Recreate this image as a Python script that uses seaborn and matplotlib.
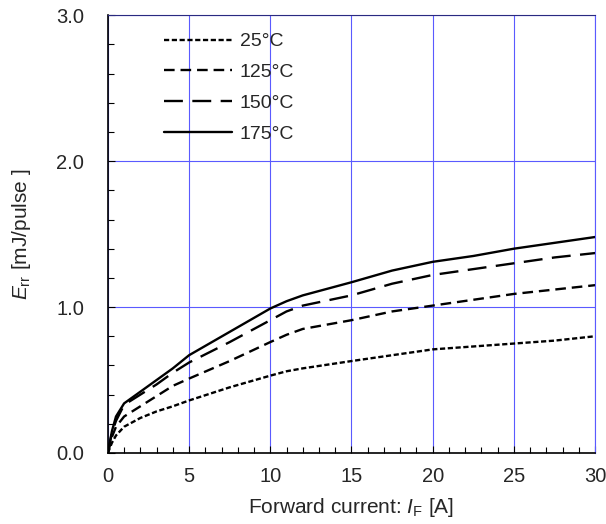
import numpy as np
import pandas as pd
import matplotlib
matplotlib.use("Agg")
import matplotlib.pyplot as plt
import seaborn as sns
from matplotlib.ticker import MultipleLocator, FormatStrFormatter

# Data
current = [0, 0.25, 0.5, 1, 2, 3, 4, 5, 7.5, 10, 11, 12, 15, 17.5, 20, 22.5, 25, 27.5, 30]
err_25 = [0, 0.07, 0.12, 0.18, 0.24, 0.285, 0.32, 0.36, 0.45, 0.53, 0.56, 0.58, 0.63, 0.67, 0.71, 0.73, 0.75, 0.77, 0.80]
err_125 = [0, 0.11, 0.18, 0.25, 0.32, 0.39, 0.46, 0.51, 0.63, 0.76, 0.81, 0.85, 0.91, 0.97, 1.01, 1.05, 1.09, 1.12, 1.15]
err_150 = [0, 0.14, 0.22, 0.33, 0.40, 0.47, 0.55, 0.62, 0.76, 0.91, 0.97, 1.01, 1.08, 1.16, 1.22, 1.26, 1.30, 1.34, 1.37]
err_175 = [0, 0.15, 0.25, 0.34, 0.42, 0.50, 0.58, 0.67, 0.83, 0.99, 1.04, 1.08, 1.17, 1.25, 1.31, 1.35, 1.40, 1.44, 1.48]
labels = ["25°C", "125°C", "150°C", "175°C"]

series = [err_25, err_125, err_150, err_175]
df = pd.concat([pd.DataFrame({"IF": current, "Err": s, "T": lab}) for s, lab in zip(series, labels)],
               ignore_index=True)

sns.set_style("white")
plt.rcParams['font.family'] = ['Liberation Sans', 'DejaVu Sans']
plt.rcParams['mathtext.fontset'] = 'custom'
plt.rcParams['mathtext.rm'] = 'Liberation Sans'
plt.rcParams['mathtext.it'] = 'Liberation Sans:italic'

fig = plt.figure(figsize=(6.06, 5.24), dpi=100)
ax = fig.add_axes([0.178, 0.1355, 0.804, 0.8355])

dashes = {"25°C": (2.2, 1.1), "125°C": (4.5, 2.5), "150°C": (8, 4), "175°C": ""}
sns.lineplot(data=df, x="IF", y="Err", hue="T", style="T", dashes=dashes,
             palette=["black"] * 4, linewidth=1.7, ax=ax, legend=True)

ax.set_xlim(0, 30)
ax.set_ylim(0, 3.0)
ax.xaxis.set_major_locator(MultipleLocator(5))
ax.xaxis.set_minor_locator(MultipleLocator(1))
ax.yaxis.set_major_locator(MultipleLocator(1.0))
ax.yaxis.set_minor_locator(MultipleLocator(0.2))
ax.yaxis.set_major_formatter(FormatStrFormatter('%.1f'))
ax.tick_params(which='both', direction='in', labelsize=14.5, color='black',
               bottom=True, left=True, top=False, right=False, width=0.8)
ax.tick_params(which='major', length=5)
ax.tick_params(which='minor', length=4)
ax.tick_params(axis='x', pad=10)
ax.tick_params(axis='y', pad=17)
ax.grid(True, which='major', color='#5a5aff', linewidth=0.8)
ax.set_axisbelow(True)

for side in ['left', 'bottom']:
    ax.spines[side].set_color('black')
    ax.spines[side].set_linewidth(1.2)
ax.spines['top'].set_color('#2a2a80')
ax.spines['right'].set_color('#5a5aff')

ax.set_xlabel(r"Forward current: $\mathit{I}_{\rm F}$ [A]", fontsize=15, labelpad=7)
ax.set_ylabel(r"$\mathit{E}_{\rm rr}$ [mJ/pulse ]", fontsize=15, labelpad=17)

leg = ax.legend(loc='upper left', bbox_to_anchor=(0.115, 0.960), frameon=False,
                fontsize=14, handlelength=3.5, labelspacing=0.68, handletextpad=0.4,
                borderpad=0, borderaxespad=0)
leg.set_title(None)

fig.savefig("out.png", dpi=100)
